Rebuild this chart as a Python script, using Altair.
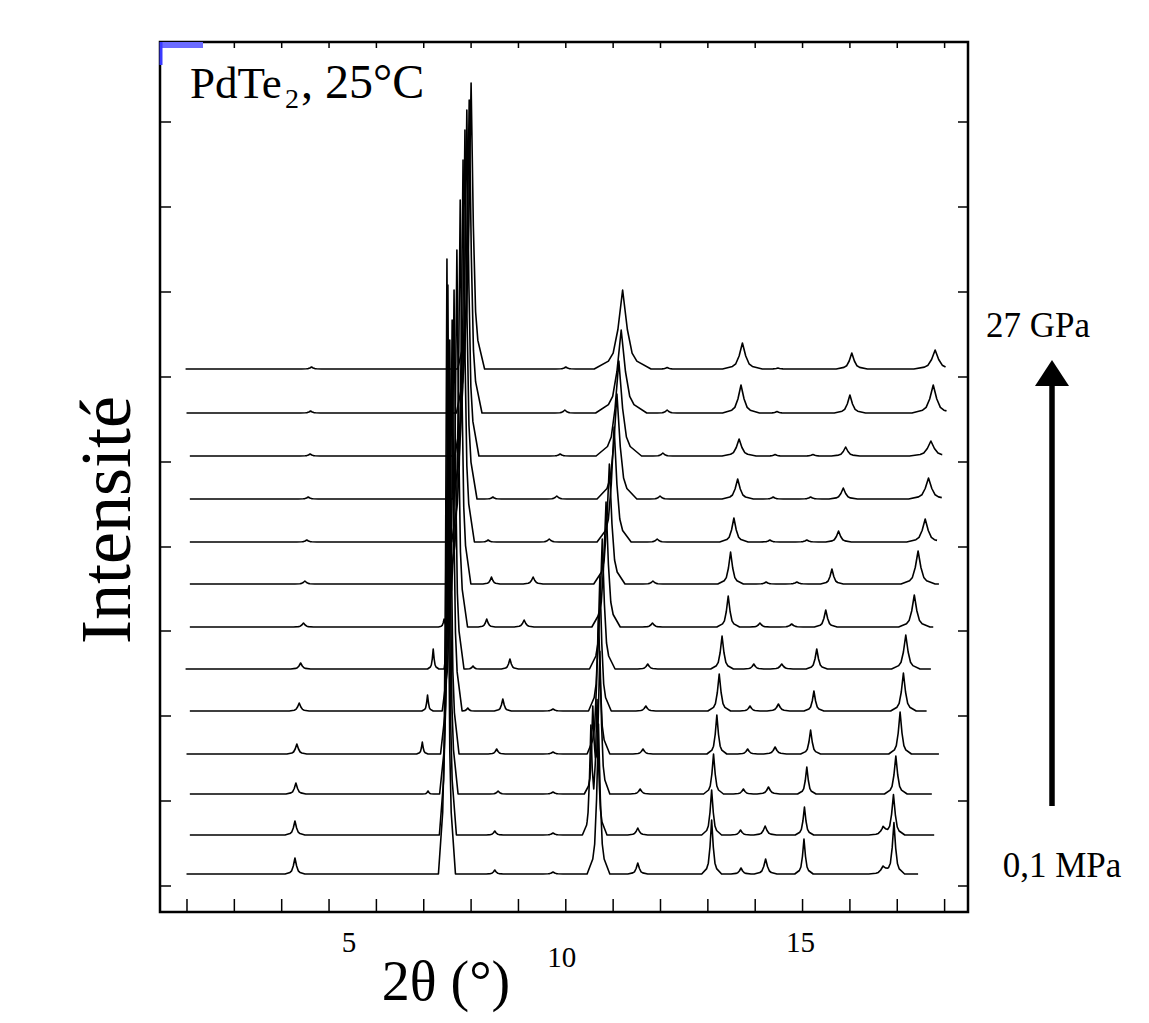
import altair as alt
import numpy as np
import pandas as pd

# 13 diffraction patterns, index 0 = 0.1 MPa (bottom) ... index 12 = 27 GPa (top)
baseline = [38, 77, 118, 158, 201, 243, 285, 328, 370, 413, 456, 499, 543]
start_2theta = [1.99, 2.06, 2.06, 1.99, 2.06, 1.97, 2.06, 2.06, 2.06, 2.06, 2.06, 1.99, 1.97]
end_2theta = [17.44, 17.78, 17.73, 17.88, 17.62, 17.71, 17.76, 17.88, 17.84, 17.94, 17.95, 18.04, 18.02]

# Peak families: position (deg 2theta), height (a.u.), FWHM (deg); height 0 = absent
a_pos = [4.28, 4.28, 4.30, 4.32, 4.37, 4.40, 4.46, 4.49, 4.53, 4.56, 4.60, 4.61, 4.63]
a_h = [16, 14, 11, 10, 8, 6, 4, 3, 2, 2, 2, 2, 2]
a_w = [0.07] * 13

b_pos = [0, 0, 7.09, 6.97, 7.08, 7.20, 7.43, 0, 0, 0, 0, 0, 0]
b_h = [0, 0, 3, 12, 16, 20, 8, 0, 0, 0, 0, 0, 0]
b_w = [0.04] * 13

c_pos = [7.49, 7.51, 7.53, 7.55, 7.60, 7.64, 7.70, 7.77, 7.83, 7.87, 7.91, 7.96, 8.00]
c_h = [615, 550, 444, 414, 391, 379, 377, 384, 382, 369, 346, 313, 286]
c_w = [0.06, 0.06, 0.065, 0.065, 0.07, 0.07, 0.075, 0.075, 0.08, 0.085, 0.085, 0.09, 0.095]

d_pos = [0, 0, 0, 0, 7.93, 8.04, 0, 0, 0, 0, 0, 0, 0]
d_h = [0, 0, 0, 0, 3, 3, 0, 0, 0, 0, 0, 0, 0]
d_w = [0.05] * 13

e_pos = [8.50, 8.50, 8.57, 8.54, 8.67, 8.82, 8.33, 8.43, 8.36, 8.46, 0, 0, 0]
e_h = [4, 4, 3, 5, 12, 10, 8, 7, 2, 2, 0, 0, 0]
e_w = [0.06] * 13

f_pos = [9.73, 9.73, 9.73, 9.73, 9.73, 0, 9.12, 9.31, 9.65, 9.81, 9.88, 9.98, 10.00]
f_h = [2, 2, 2, 2, 2, 0, 7, 7, 3, 3, 2, 3, 2]
f_w = [0.07] * 13

g_pos = [10.69, 10.66, 10.72, 10.69, 10.72, 10.77, 10.85, 10.92, 11.02, 11.08, 11.12, 11.17, 11.20]
g_h = [150, 130, 140, 140, 135, 130, 125, 120, 115, 105, 95, 83, 79]
g_w = [0.08, 0.07, 0.07, 0.08, 0.08, 0.09, 0.10, 0.11, 0.12, 0.14, 0.16, 0.18, 0.20]

h_pos = [0, 10.53, 10.57, 0, 0, 0, 0, 0, 0, 0, 0, 0, 0]
h_h = [0, 100, 80, 0, 0, 0, 0, 0, 0, 0, 0, 0, 0]
h_w = [0.06] * 13

i_pos = [11.52, 11.52, 11.57, 11.63, 11.69, 11.73, 11.83, 11.84, 11.93, 11.99, 12.05, 12.14, 12.14]
i_h = [11, 7, 5, 5, 5, 5, 4, 3, 3, 3, 3, 3, 1.5]
i_w = [0.07] * 13

j_pos = [13.08, 13.08, 13.12, 13.19, 13.24, 13.30, 13.43, 13.48, 13.55, 13.63, 13.66, 13.70, 13.73]
j_h = [54, 45, 40, 39, 37, 33, 31, 32, 24, 20, 17, 28, 26]
j_w = [0.07, 0.07, 0.07, 0.07, 0.08, 0.08, 0.08, 0.09, 0.10, 0.11, 0.12, 0.13, 0.14]

k_pos = [13.70, 13.69, 13.75, 13.84, 13.89, 13.97, 14.10, 14.23, 14.31, 14.38, 14.42, 14.46, 14.48]
k_h = [6, 5, 5, 5, 5, 5, 4, 2, 2, 2, 1.5, 1.5, 1]
k_w = [0.07] * 13

l_pos = [14.22, 14.21, 14.28, 14.42, 14.49, 14.56, 14.77, 14.88, 15.09, 15.17, 15.22, 0, 0]
l_h = [15, 9, 7, 7, 7, 5, 3, 2, 2, 2, 1.5, 0, 0]
l_w = [0.08] * 13

m_pos = [15.03, 15.04, 15.09, 15.17, 15.24, 15.30, 15.49, 15.62, 15.76, 15.86, 15.91, 16.00, 16.04]
m_h = [35, 28, 27, 24, 20, 20, 17, 15, 11, 11, 9, 18, 16]
m_w = [0.065, 0.065, 0.065, 0.07, 0.07, 0.075, 0.08, 0.08, 0.09, 0.10, 0.10, 0.11, 0.11]

n_pos = [16.70, 16.70, 0, 0, 0, 0, 0, 0, 0, 0, 0, 0, 0]
n_h = [8, 8, 0, 0, 0, 0, 0, 0, 0, 0, 0, 0, 0]
n_w = [0.10] * 13

o_pos = [16.93, 16.92, 16.97, 17.06, 17.13, 17.18, 17.36, 17.44, 17.59, 17.66, 17.71, 17.76, 17.80]
o_h = [51, 40, 38, 42, 38, 34, 32, 33, 23, 21, 15, 28, 19]
o_w = [0.075, 0.08, 0.08, 0.08, 0.09, 0.10, 0.11, 0.12, 0.13, 0.14, 0.15, 0.15, 0.15]

x_ticks = list(range(2, 19))
y_ticks = [26, 111, 196, 281, 365, 450, 535, 620, 705, 790]
x_label_values = [5, 10, 15]

families = [
    (a_pos, a_h, a_w), (b_pos, b_h, b_w), (c_pos, c_h, c_w), (d_pos, d_h, d_w),
    (e_pos, e_h, e_w), (f_pos, f_h, f_w), (g_pos, g_h, g_w), (h_pos, h_h, h_w),
    (i_pos, i_h, i_w), (j_pos, j_h, j_w), (k_pos, k_h, k_w), (l_pos, l_h, l_w),
    (m_pos, m_h, m_w), (n_pos, n_h, n_w), (o_pos, o_h, o_w),
]
# vertices of one peak outline: offsets in FWHM units and fraction of the peak height
shape_off = np.array([-3.0, -1.5, -1.0, -0.5, 0.0, 0.5, 1.0, 1.5, 3.0])
shape_frac = np.array([0.0, 0.1, 0.2, 0.5, 1.0, 0.5, 0.2, 0.1, 0.0])

rows = []
for t in range(13):
    peaks = [(p[t], h[t], w[t]) for (p, h, w) in families if h[t] > 0]
    xs = {start_2theta[t], end_2theta[t]}
    for (c, hh, ww) in peaks:
        for x in c + shape_off * ww:
            if start_2theta[t] < x < end_2theta[t]:
                xs.add(round(float(x), 5))
    xs = np.array(sorted(xs))
    ys = np.full(len(xs), float(baseline[t]))
    for (c, hh, ww) in peaks:
        ys += np.interp(xs, c + shape_off * ww, hh * shape_frac, left=0, right=0)
    for k, (x, y) in enumerate(zip(xs, ys)):
        rows.append({"trace": t, "k": k, "two_theta": float(x), "intensity": float(y)})
df = pd.DataFrame(rows)

W, H = 808, 870
xscale = alt.Scale(domain=[1.43, 18.494], nice=False, zero=False)
yscale = alt.Scale(domain=[0, 870], nice=False, zero=False)
FONT = "Liberation Serif"
one = pd.DataFrame({"a": [0]})

lines = alt.Chart(df).mark_line(color="black", strokeWidth=1.6, strokeJoin="round").encode(
    x=alt.X("two_theta:Q", scale=xscale, axis=None),
    y=alt.Y("intensity:Q", scale=yscale, axis=None),
    detail="trace:N",
    order="k:Q",
)

xt = pd.DataFrame({"t": x_ticks})
yt = pd.DataFrame({"v": y_ticks})
tick_style = dict(color="black", strokeWidth=1.5)
bottom_ticks = alt.Chart(xt).mark_rule(**tick_style).encode(
    x=alt.X("t:Q", scale=xscale, axis=None), y=alt.value(H), y2=alt.value(H - 13))
top_ticks = alt.Chart(xt).mark_rule(**tick_style).encode(
    x=alt.X("t:Q", scale=xscale, axis=None), y=alt.value(0), y2=alt.value(6))
left_ticks = alt.Chart(yt).mark_rule(**tick_style).encode(
    y=alt.Y("v:Q", scale=yscale, axis=None), x=alt.value(0), x2=alt.value(11))
right_ticks = alt.Chart(yt).mark_rule(**tick_style).encode(
    y=alt.Y("v:Q", scale=yscale, axis=None), x=alt.value(W - 10), x2=alt.value(W))

def label(val, dx, ypix):
    return alt.Chart(pd.DataFrame({"v": [val], "s": [str(val)]})).mark_text(
        font=FONT, fontSize=29, color="black", align="center", baseline="alphabetic", dx=dx
    ).encode(x=alt.X("v:Q", scale=xscale, axis=None), y=alt.value(ypix), text="s:N")

lab5 = label(x_label_values[0], 20, 910)
lab10 = label(x_label_values[1], -4, 925)
lab15 = label(x_label_values[2], -2, 910)

def txt(s, x, y, size, align="left", angle=0):
    return alt.Chart(pd.DataFrame({"s": [s]})).mark_text(
        font=FONT, fontSize=size, color="black", align=align, baseline="alphabetic", angle=angle
    ).encode(x=alt.value(x), y=alt.value(y), text="s:N")

title1 = txt("PdTe", 30, 56, 45)
title2 = txt("2", 125, 66, 28)
title3 = txt(", 25°C", 141, 56, 48)
p_top = txt("27 GPa", 878, 295, 35, "center")
p_bot = txt("0,1 MPa", 902, 835, 35, "center")
xtitle = txt("2θ (°)", 286, 958, 56, "center")
ytitle = txt("Intensité", -30, 478, 72, "center", 270)

shaft = alt.Chart(one).mark_rule(color="black", strokeWidth=5.5).encode(
    x=alt.value(892), y=alt.value(342), y2=alt.value(764))
head = alt.Chart(one).mark_point(
    shape="M0,-0.765L1,0.765L-1,0.765Z", filled=True, size=1156, color="black", opacity=1
).encode(x=alt.value(892), y=alt.value(331))

blue_rect = alt.Chart(one).mark_rect(color="#6b6bff").encode(
    x=alt.value(0), x2=alt.value(43), y=alt.value(0), y2=alt.value(6))
blue_line = alt.Chart(one).mark_rule(color="#3a3aff", strokeWidth=3).encode(
    x=alt.value(1), y=alt.value(0), y2=alt.value(23))

chart = alt.layer(
    lines, bottom_ticks, top_ticks, left_ticks, right_ticks,
    lab5, lab10, lab15, title1, title2, title3, p_top, p_bot, xtitle, ytitle,
    shaft, head, blue_rect, blue_line,
).properties(
    width=W, height=H,
    padding={"left": 152, "top": 34, "right": 173, "bottom": 108},
    autosize=alt.AutoSizeParams(type="none"),
).configure_view(stroke="black", strokeWidth=2.5)

chart.save("out.html", embed_options={"renderer": "svg", "actions": False})
